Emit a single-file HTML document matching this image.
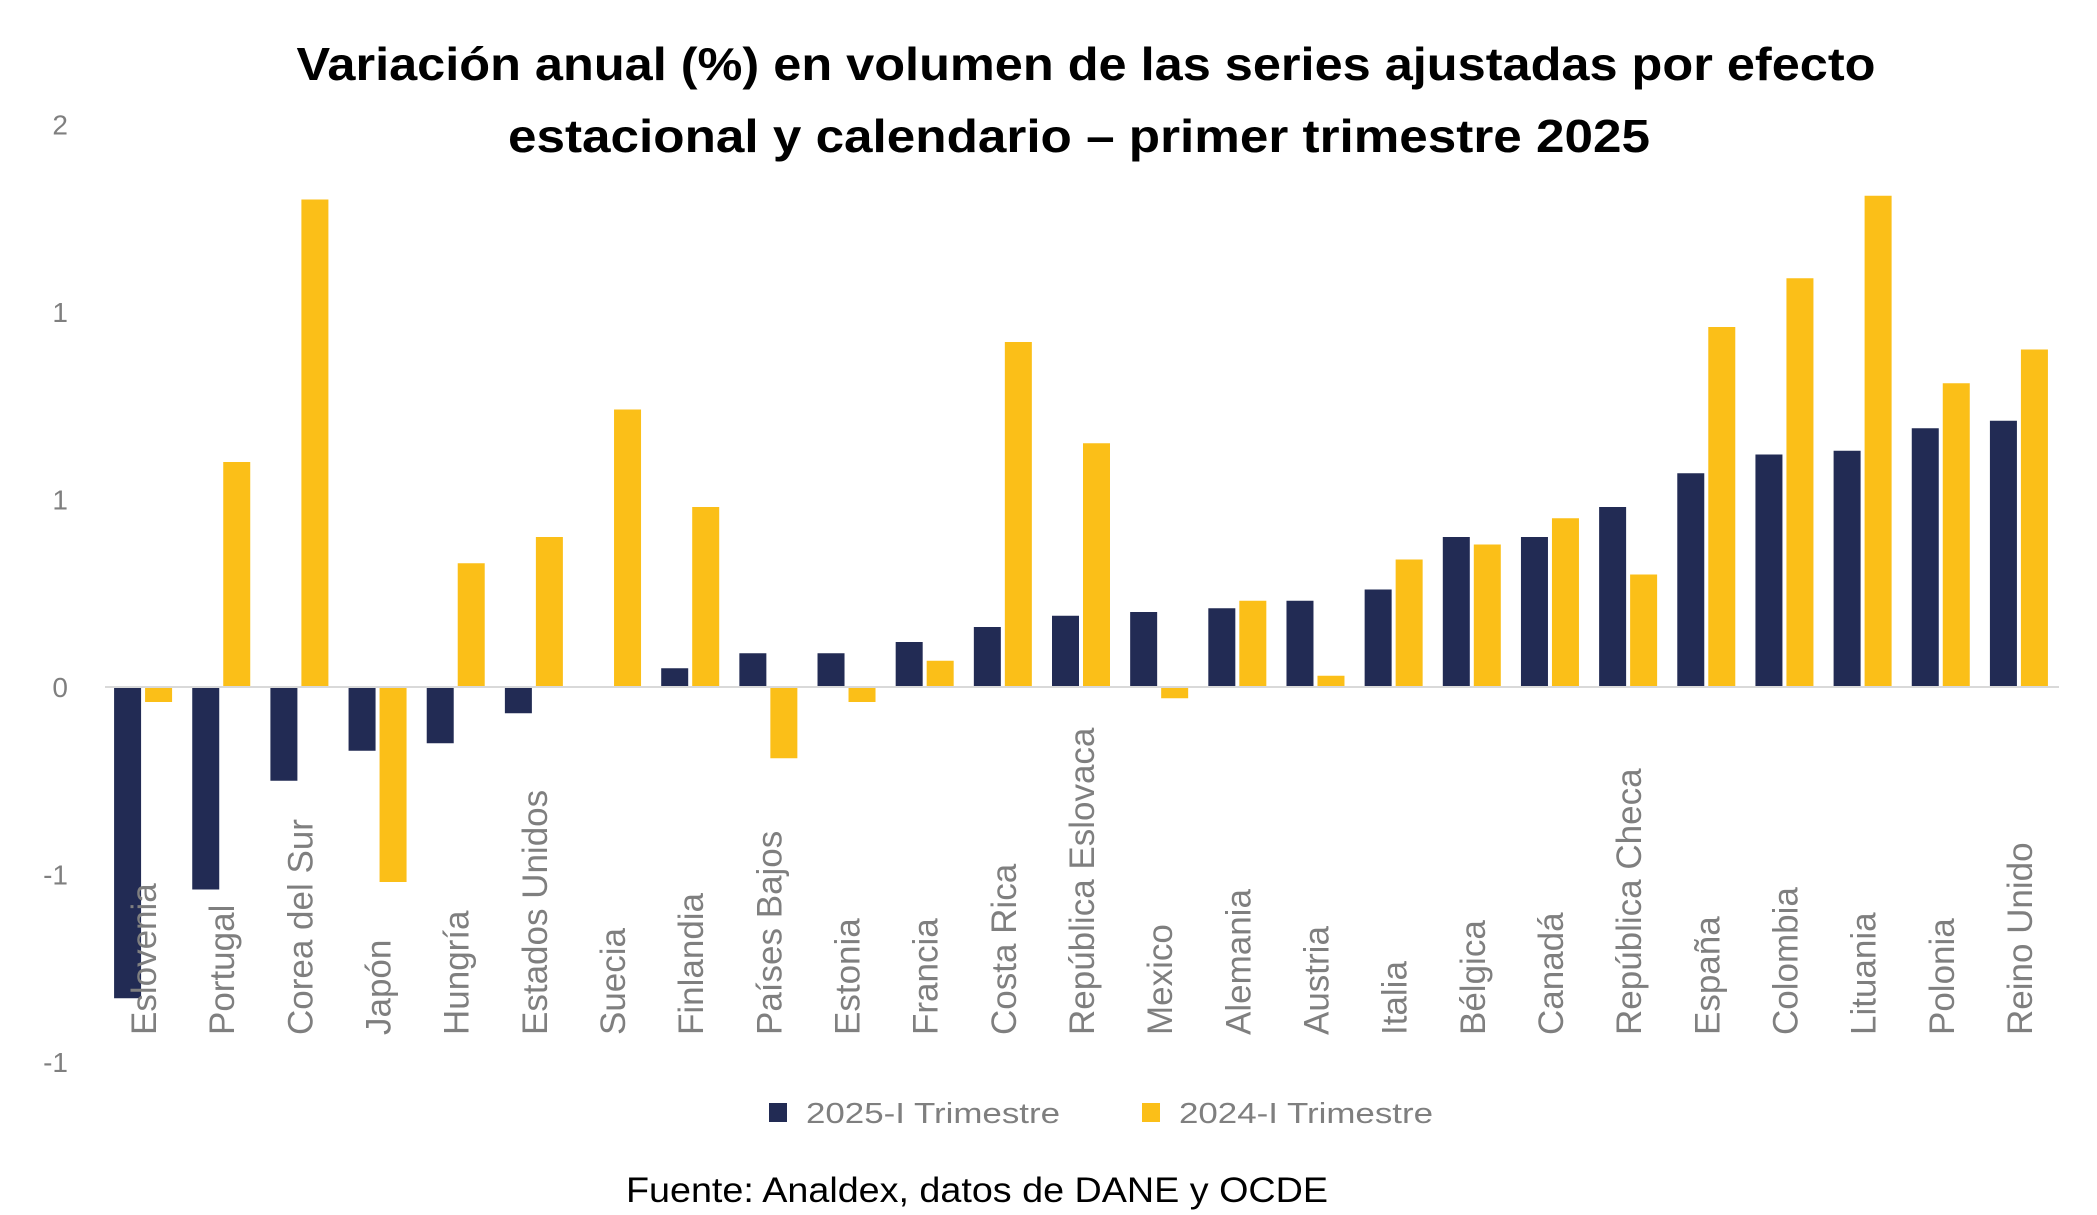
<!DOCTYPE html>
<html><head><meta charset="utf-8"><style>
html,body{margin:0;padding:0;background:#fff;}
svg{display:block;font-family:"Liberation Sans",sans-serif;}
</style></head><body>
<svg id="chart" width="2097" height="1215" viewBox="0 0 2097 1215">
<g>
<text x="1086" y="80" text-anchor="middle" font-size="46" font-weight="bold" fill="#000" textLength="1579" lengthAdjust="spacingAndGlyphs">Variación anual (%) en volumen de las series ajustadas por efecto</text>
<text x="1079" y="152" text-anchor="middle" font-size="46" font-weight="bold" fill="#000" textLength="1142" lengthAdjust="spacingAndGlyphs">estacional y calendario – primer trimestre 2025</text>
</g>
<g id="yaxis"></g>
<g id="bars"></g>
<line id="zero" stroke="#d9d9d9" stroke-width="2"/>
<g id="xlabels"></g>
<g>
<g>
<rect x="769" y="1103" width="18" height="19" fill="#222b54"/>
<text x="806" y="1123" font-size="29" fill="#7f7f7f" textLength="254" lengthAdjust="spacingAndGlyphs">2025-I Trimestre</text>
</g>
<g>
<rect x="1142" y="1103" width="18" height="19" fill="#fbbf18"/>
<text x="1179" y="1123" font-size="29" fill="#7f7f7f" textLength="254" lengthAdjust="spacingAndGlyphs">2024-I Trimestre</text>
</g>
</g>
<text x="626" y="1202" font-size="35" fill="#000" textLength="702" lengthAdjust="spacingAndGlyphs">Fuente: Analdex, datos de DANE y OCDE</text>
</svg>
<script>
const categories = ["Eslovenia","Portugal","Corea del Sur","Japón","Hungría","Estados Unidos","Suecia","Finlandia","Países Bajos","Estonia","Francia","Costa Rica","República Eslovaca","Mexico","Alemania","Austria","Italia","Bélgica","Canadá","República Checa","España","Colombia","Lituania","Polonia","Reino Unido"];
const series2025 = [-0.83,-0.54,-0.25,-0.17,-0.15,-0.07,0,0.05,0.09,0.09,0.12,0.16,0.19,0.20,0.21,0.23,0.26,0.40,0.40,0.48,0.57,0.62,0.63,0.69,0.71];
const series2024 = [-0.04,0.60,1.30,-0.52,0.33,0.40,0.74,0.48,-0.19,-0.04,0.07,0.92,0.65,-0.03,0.23,0.03,0.34,0.38,0.45,0.30,0.96,1.09,1.31,0.81,0.90];
const tickValues = [1.5,1,0.5,0,-0.5,-1];
const tickLabels = ["2","1","1","0","-1","-1"];

const NS="http://www.w3.org/2000/svg";
const plotL=105, plotR=2059, zeroY=687, pxPerUnit=375;
const y = v => zeroY - v*pxPerUnit;
const band = (plotR-plotL)/categories.length;
const cx = i => plotL + band*(i+0.5);
function mk(tag, attrs, parent){const e=document.createElementNS(NS,tag);for(const k in attrs)e.setAttribute(k,attrs[k]);parent.appendChild(e);return e;}

const yaxis=document.getElementById('yaxis');
tickValues.forEach((v,i)=>{
  const t=mk('text',{x:68,y:y(v)+10,'text-anchor':'end','font-size':28,fill:'#7f7f7f'},yaxis);
  
  
  t.textContent=tickLabels[i];
});
const z=document.getElementById('zero');
z.setAttribute('x1',plotL);z.setAttribute('x2',plotR);z.setAttribute('y1',zeroY);z.setAttribute('y2',zeroY);

const bars=document.getElementById('bars');
const bw=27;
categories.forEach((c,i)=>{
  const a=series2025[i], b=series2024[i];
  const r1=mk('rect',{x:cx(i)-3-bw,y:Math.min(y(a),zeroY),width:bw,height:Math.abs(y(a)-zeroY),fill:'#222b54'},bars);
  
  
  const r2=mk('rect',{x:cx(i)+1,y:Math.min(y(b),zeroY),width:bw,height:Math.abs(y(b)-zeroY),fill:'#fbbf18'},bars);
  
  
});
const xl=document.getElementById('xlabels');
categories.forEach((c,i)=>{
  const x=cx(i)+12, yy=1035;
  const t=mk('text',{x:x,y:yy,transform:`rotate(-90 ${x} ${yy})`,'font-size':35,fill:'#7f7f7f'},xl);
  
  
  t.textContent=c;
});
</script>
</body></html>
